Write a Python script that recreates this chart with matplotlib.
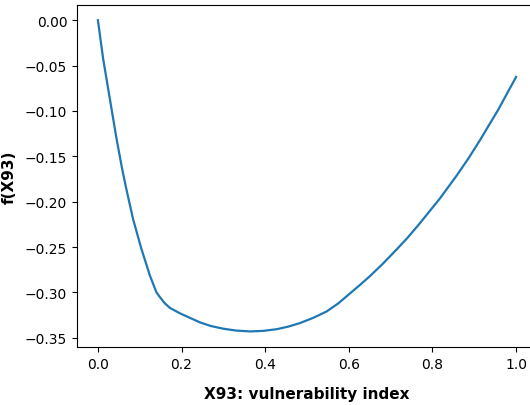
import numpy as np
import matplotlib
matplotlib.use('Agg')
import matplotlib.pyplot as plt

# values
x_vals = [0.0, 0.0127, 0.0287, 0.0447, 0.058, 0.068, 0.084, 0.104, 0.124, 0.140,
          0.148, 0.160, 0.172, 0.196, 0.22, 0.244, 0.27, 0.300, 0.33, 0.364,
          0.395, 0.428, 0.455, 0.483, 0.515, 0.547, 0.575, 0.603, 0.627, 0.651,
          0.68, 0.714, 0.74, 0.770, 0.818, 0.858, 0.886, 0.914, 0.957, 1.0]
f_vals = [0.0, -0.043, -0.087, -0.131, -0.164, -0.186, -0.219, -0.252, -0.281, -0.300,
          -0.305, -0.312, -0.317, -0.323, -0.328, -0.333, -0.337, -0.340, -0.342, -0.343,
          -0.3424, -0.3405, -0.3377, -0.3338, -0.328, -0.321, -0.312, -0.301, -0.2916, -0.2818,
          -0.269, -0.2528, -0.240, -0.2237, -0.1963, -0.1711, -0.1523, -0.1319, -0.0988, -0.0625]

W, H = 530, 406
fig = plt.figure(figsize=(W / 100, H / 100), dpi=100)
ax = fig.add_axes([77 / W, 1 - 348 / H, (537 - 77) / W, (348 - 5.7) / H])

ax.plot(x_vals, f_vals, color='#1f77b4', linewidth=1.6)
ax.set_xlabel('X93: vulnerability index', fontweight='bold', fontsize=11, labelpad=11)
ax.set_ylabel('f(X93)', fontweight='bold', fontsize=11, labelpad=6)
ax.set_xticks([0.0, 0.2, 0.4, 0.6, 0.8, 1.0])
ax.set_yticks([0.0, -0.05, -0.10, -0.15, -0.20, -0.25, -0.30, -0.35])

fig.savefig('out.png', dpi=100)
